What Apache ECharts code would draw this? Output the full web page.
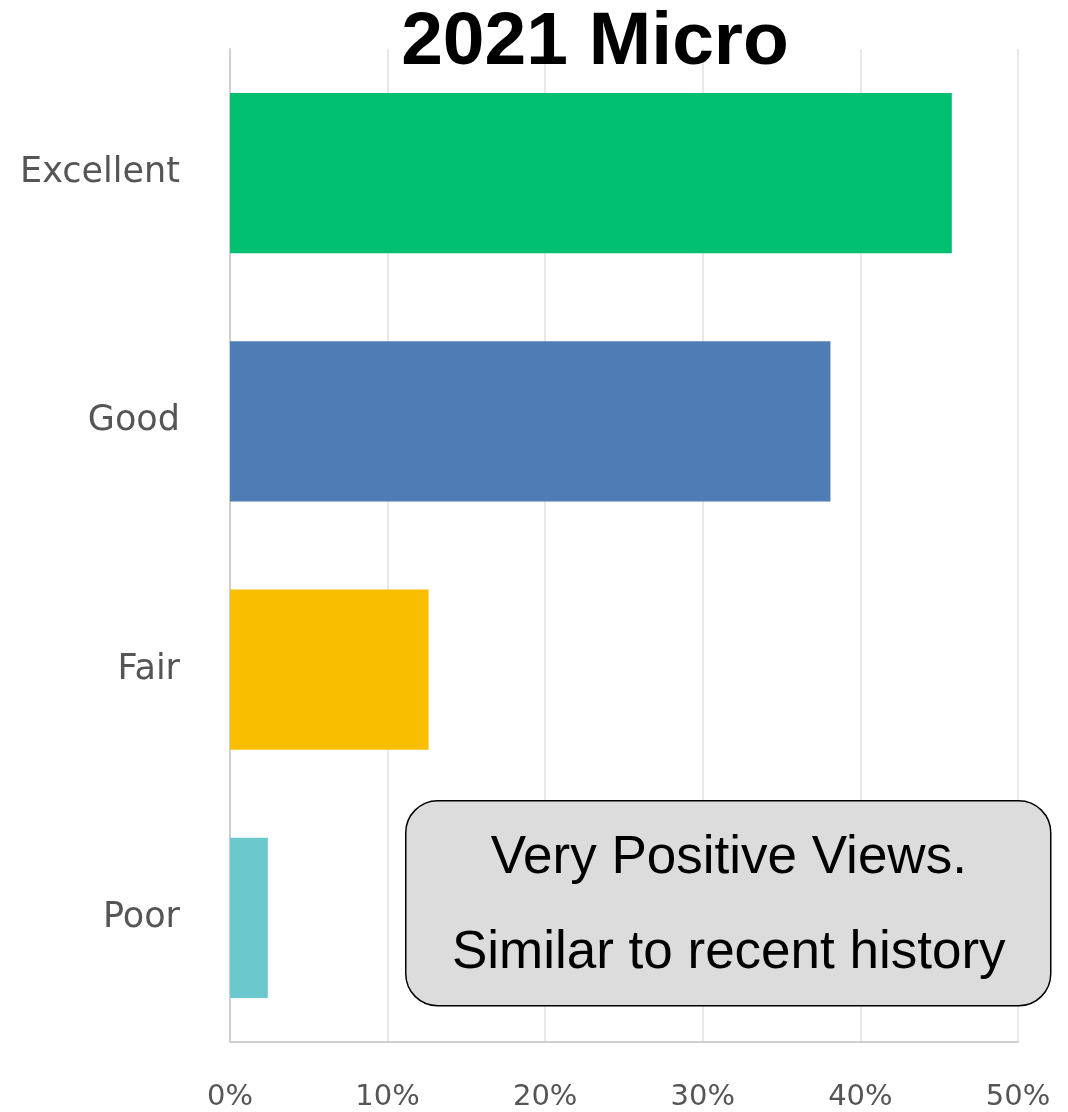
<!DOCTYPE html>
<html>
<head>
<meta charset="utf-8">
<script src="https://cdn.jsdelivr.net/npm/echarts@6/dist/echarts.min.js"></script>
<style>
  html, body { margin: 0; padding: 0; background: #fff; }
  #chart { width: 1068px; height: 1112px; }
</style>
</head>
<body>
<div id="chart"></div>
<script>
// ratings, top to bottom
const categories = ["Excellent", "Good", "Fair", "Poor"];
const shares = [45.8, 38.1, 12.6, 2.4];
const barColors = ["#00bf6f", "#507cb6", "#f9be00", "#6bc8cd"];
const xTicks = [0, 10, 20, 30, 40, 50];
const noteLines = ["Very Positive Views.", "Similar to recent history"];

const myChart = echarts.init(document.getElementById("chart"));
myChart.setOption({
  animation: false,
  title: {
    text: "2021 Micro",
    left: 590,
    textAlign: "center",
    top: 1,
    textStyle: {
      fontFamily: "Liberation Sans, Arial",
      fontWeight: "bold",
      fontSize: 75,
      color: "#000"
    }
  },
  grid: {
    left: 230,
    right: 50,
    top: 49,
    bottom: 69
  },
  xAxis: {
    type: "value",
    min: xTicks[0],
    max: xTicks[xTicks.length - 1],
    interval: 10,
    axisLine: { show: true, lineStyle: { color: "#cfcfcf", width: 2 } },
    axisTick: { show: false },
    splitLine: { show: true, lineStyle: { color: "#e8e8e8", width: 2 } },
    axisLabel: {
      formatter: "{value}%",
      margin: 41,
      fontFamily: "DejaVu Sans",
      fontSize: 29,
      color: "#555"
    }
  },
  yAxis: {
    type: "category",
    data: categories,
    inverse: true,
    axisLine: { show: true, lineStyle: { color: "#cfcfcf", width: 2 } },
    axisTick: { show: false },
    axisLabel: {
      margin: 50,
      padding: [6, 0, 0, 0],
      fontFamily: "DejaVu Sans",
      fontSize: 35,
      color: "#555"
    }
  },
  series: [{
    type: "bar",
    data: shares.map((v, i) => ({ value: v, itemStyle: { color: barColors[i] } })),
    barCategoryGap: "35.5%"
  }],
  graphic: [{
    type: "group",
    left: 405,
    top: 800,
    z: 100,
    children: [
      {
        type: "rect",
        z: 100,
        shape: { x: 0, y: 0, width: 645, height: 205, r: 32 },
        style: { fill: "#dcdcdc", stroke: "#000", lineWidth: 1.5 }
      },
      {
        type: "text",
        z: 101,
        x: 323,
        y: 58,
        style: {
          text: noteLines[0],
          align: "center",
          verticalAlign: "middle",
          fontFamily: "Liberation Sans, Arial",
          fontSize: 53,
          fill: "#000"
        }
      },
      {
        type: "text",
        z: 101,
        x: 323,
        y: 153,
        style: {
          text: noteLines[1],
          align: "center",
          verticalAlign: "middle",
          fontFamily: "Liberation Sans, Arial",
          fontSize: 53,
          fill: "#000"
        }
      }
    ]
  }]
});
</script>
</body>
</html>
